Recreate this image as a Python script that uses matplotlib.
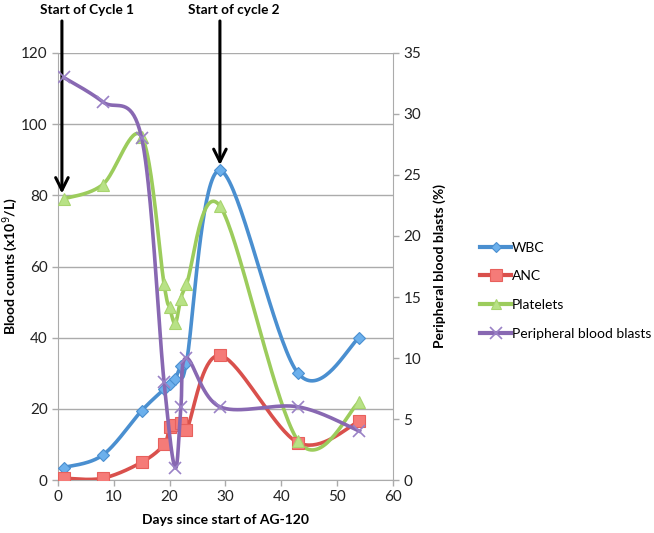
import numpy as np
import matplotlib
matplotlib.use("Agg")
import matplotlib.pyplot as plt
from matplotlib.lines import Line2D

plt.rcParams['font.family'] = ['Lato', 'DejaVu Sans']

days = [1, 8, 15, 19, 20, 21, 22, 23, 29, 43, 54]
wbc = [3.5, 7, 19.5, 25.5, 27, 28.5, 32, 33, 87, 30, 40]
anc = [0.5, 0.5, 5, 10, 15, 15.5, 16, 14, 35, 10.5, 16.5]
platelets = [79, 83, 96.5, 55, 48.5, 44, 51, 55, 77, 11, 22]
blast_days = [1, 8, 15, 19, 21, 22, 23, 29, 43, 54]
blasts = [33, 31, 28, 8, 1, 6, 10, 6, 6, 4]

series_names = ['WBC', 'ANC', 'Platelets', 'Peripheral blood blasts']


def smooth(xs, ys, n=40):
    """Excel-like smoothed line (Catmull-Rom Bezier segments)."""
    P = np.column_stack([xs, ys]).astype(float)
    ext = np.vstack([P[0], P, P[-1]])
    out = []
    t = np.linspace(0, 1, n)[:, None]
    for i in range(1, len(ext) - 2):
        p0, p1, p2, p3 = ext[i - 1], ext[i], ext[i + 1], ext[i + 2]
        c1 = p1 + (p2 - p0) / 6.0
        c2 = p2 - (p3 - p1) / 6.0
        seg = ((1 - t) ** 3) * p1 + 3 * ((1 - t) ** 2) * t * c1 + 3 * (1 - t) * t ** 2 * c2 + t ** 3 * p2
        out.append(seg)
    arr = np.vstack(out)
    return arr[:, 0], arr[:, 1]


fig = plt.figure(figsize=(6.54, 5.33), dpi=100)
ax = fig.add_axes([0.0887, 0.0994, 0.5122, 0.8012])
ax2 = ax.twinx()

gray = '#ababab'
blue = '#4a8fd0'
red = '#d9504c'
green = '#9ccc5c'
purple = '#8868b2'

styles = [
    (wbc, blue, 'D', '#6cb0ec', 6, blue),
    (anc, red, 's', '#f57b78', 9, '#e8605c'),
    (platelets, green, '^', '#b8e286', 8, '#a8d46e'),
]
handles = []
for (vals, col, mk, fc, ms, ec), name in zip(styles, series_names[:3]):
    sx, sy = smooth(days, vals)
    ax.plot(sx, sy, color=col, lw=2.6, zorder=3, solid_capstyle='round')
    ax.plot(days, vals, ls='none', marker=mk, ms=ms, mfc=fc, mec=ec, mew=0.8, zorder=4)
    handles.append(Line2D([], [], color=col, lw=3, marker=mk, ms=ms - 1, mfc=fc, mec=ec, mew=0.8))

sx, sy = smooth(blast_days, blasts)
ax2.plot(sx, sy, color=purple, lw=2.6, zorder=3)
ax2.plot(blast_days, blasts, ls='none', marker='x', ms=8, mec='#9a82c6', mew=1.2, zorder=4)
handles.append(Line2D([], [], color=purple, lw=3, marker='x', ms=8, mec='#9a82c6', mew=1.2))

ax.set_xlim(0, 60)
ax.set_ylim(0, 120)
ax2.set_ylim(0, 35)
ax.set_xticks(range(0, 61, 10))
ax.set_yticks(range(0, 121, 20))
ax2.set_yticks(range(0, 36, 5))

ax.grid(axis='y', color=gray, lw=1)
ax.set_axisbelow(True)
for a in (ax, ax2):
    for s in a.spines.values():
        s.set_color(gray)
    a.spines['top'].set_visible(False)
    a.tick_params(colors=gray, labelcolor='#222222', labelsize=11, length=4, width=1)
ax.spines['right'].set_visible(False)
ax2.spines['left'].set_visible(False)
ax2.spines['bottom'].set_visible(False)

ax.set_xlabel('Days since start of AG-120', fontsize=10, fontweight='bold', labelpad=7)
ax.set_ylabel('Blood counts (x10$^{9}$/L)', fontsize=10, fontweight='bold', labelpad=1)
ax2.set_ylabel('Peripheral blood blasts (%)', fontsize=10, fontweight='bold', labelpad=9)

# arrows and annotations
for x, ytip, label, tx in [(0.7, 80.5, 'Start of Cycle 1', 5.2), (29.0, 88.5, 'Start of cycle 2', 31.4)]:
    ax.annotate('', xy=(x, ytip), xytext=(x, 129.0), xycoords='data',
                arrowprops=dict(arrowstyle='->, head_width=0.45, head_length=0.9',
                                color='black', lw=2.2, shrinkA=0, shrinkB=0),
                annotation_clip=False, zorder=6)
    ax.text(tx, 132.0, label, fontsize=9.8, fontweight='bold', ha='center', va='center',
            clip_on=False)

fig.legend(handles, series_names, loc='upper left', bbox_to_anchor=(0.726, 0.557),
           frameon=False, fontsize=10, handlelength=2.2, handletextpad=0.05,
           labelspacing=1.2, borderaxespad=0)

fig.savefig('out.png', dpi=100)
